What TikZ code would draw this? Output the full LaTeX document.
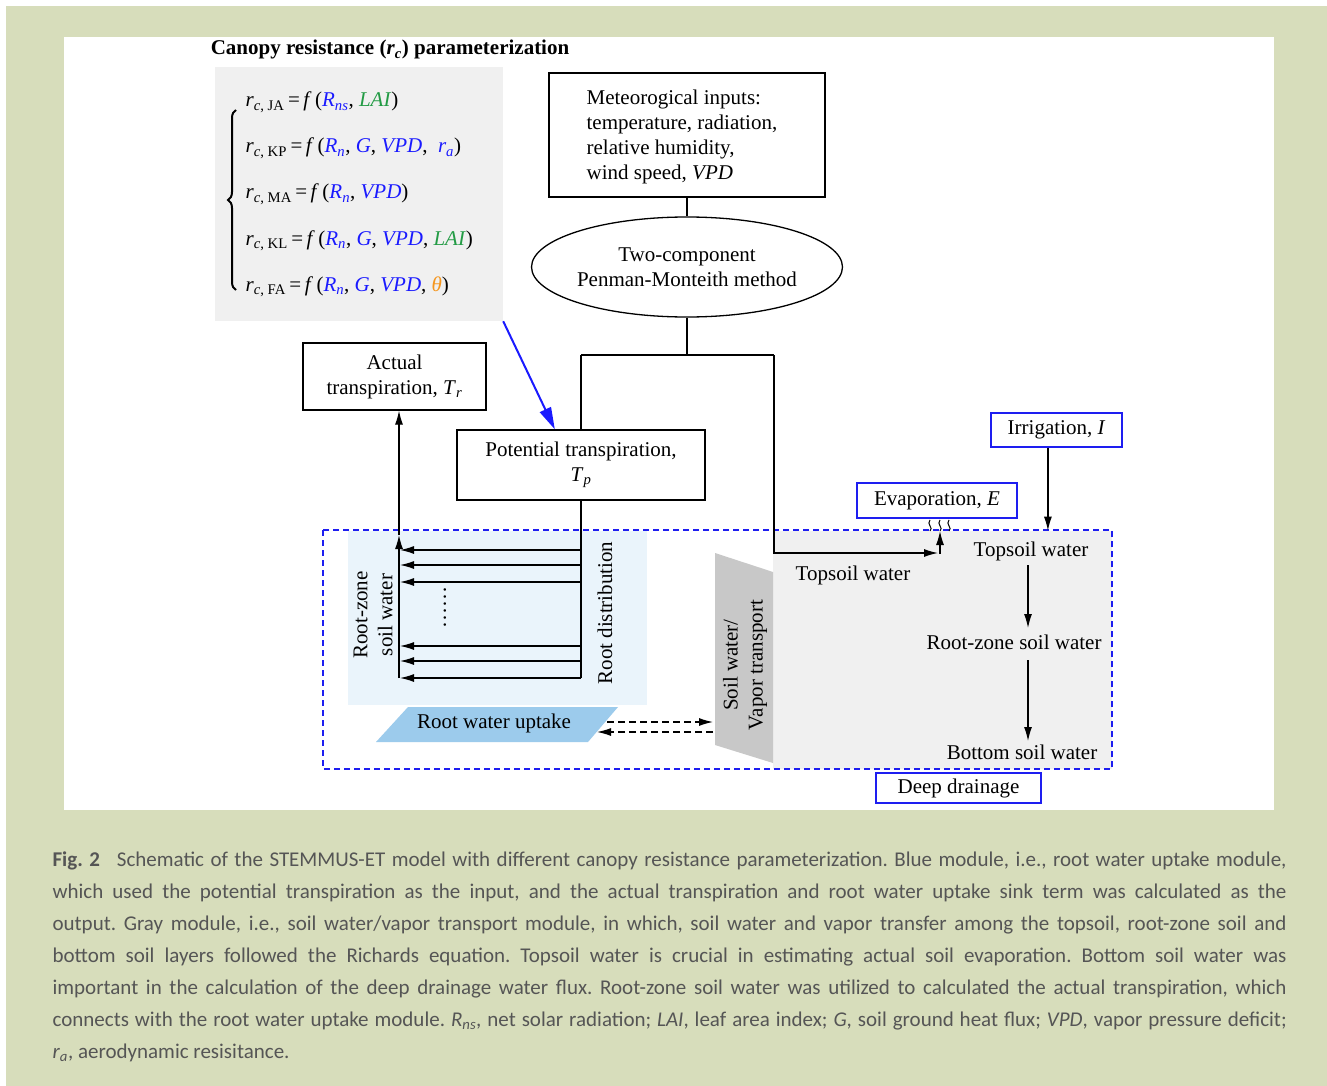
\documentclass[tikz,border=0pt]{standalone}
\usepackage{fontspec}
\setmainfont{Liberation Serif}
\newfontfamily\capfont{Carlito}
\usetikzlibrary{arrows.meta,shapes.geometric,decorations.pathreplacing,calc}
\definecolor{bgreen}{HTML}{D7DDBB}
\definecolor{eqgray}{HTML}{F0F0F0}
\definecolor{lblue}{HTML}{EAF4FB}
\definecolor{sblue}{HTML}{9CCBEC}
\definecolor{tgray}{HTML}{C8C8C8}
\definecolor{lgray}{HTML}{F0F0F0}
\definecolor{bblue}{HTML}{1E1EF0}
\definecolor{eqblue}{HTML}{1A1AFF}
\definecolor{eqgreen}{HTML}{239B45}
\definecolor{eqorange}{HTML}{F5961E}
\definecolor{captext}{HTML}{555555}
\newcommand{\fs}{\fontsize{21}{25}\selectfont}
\newcommand{\rcsub}[1]{\textit{r}\textsubscript{\textit{c}, #1}}
\newcommand{\bl}[1]{\textcolor{eqblue}{#1}}
\begin{document}
\begin{tikzpicture}[x=1pt,y=-1pt,font=\fs,line width=1.2pt,
  box/.style={draw,line width=1.3pt,inner sep=0pt,align=center},
  bbox/.style={draw=bblue,line width=1.3pt,inner sep=0pt,align=center},
  arr/.style={-{Latex[length=14pt,width=8pt]}},
  darr/.style={-{Latex[length=14pt,width=8pt]},dash pattern=on 7pt off 4pt},
  eqn/.style={anchor=base west,inner sep=0pt}]
\useasboundingbox (0,0) rectangle (1327,1086);
\fill[white] (0,0) rectangle (1327,1086);
\fill[bgreen] (6,6) rectangle (1327,1086);
\fill[white] (64,37) rectangle (1274,810);

% title and equations
\node[anchor=base,inner sep=0pt,font=\fs\bfseries] (title) at (390,55) {Canopy resistance (\textit{r}\textsubscript{\textit{c}}) parameterization};
\node[fill=eqgray,minimum width=288pt,minimum height=254pt,inner sep=0pt,anchor=north west] (eqbox) at (214,66) {};
\draw[decorate,decoration={brace,amplitude=8pt},line width=2pt] (236,290) -- (236,110);
\node[eqn] (e1) at (245,107) {\rcsub{JA}\,=\,\textit{f}\,(\bl{\textit{R}\textsubscript{\textit{ns}}}, \textcolor{eqgreen}{\textit{LAI}})};
\node[eqn] (e2) at (245,153) {\rcsub{KP}\,=\,\textit{f}\,(\bl{\textit{R}\textsubscript{\textit{n}}}, \bl{\textit{G}}, \bl{\textit{VPD}}, \ \bl{\textit{r}\textsubscript{\textit{a}}})};
\node[eqn] (e3) at (245,199) {\rcsub{MA}\,=\,\textit{f}\,(\bl{\textit{R}\textsubscript{\textit{n}}}, \bl{\textit{VPD}})};
\node[eqn] (e4) at (245,245) {\rcsub{KL}\,=\,\textit{f}\,(\bl{\textit{R}\textsubscript{\textit{n}}}, \bl{\textit{G}}, \bl{\textit{VPD}}, \textcolor{eqgreen}{\textit{LAI}})};
\node[eqn] (e5) at (245,291) {\rcsub{FA}\,=\,\textit{f}\,(\bl{\textit{R}\textsubscript{\textit{n}}}, \bl{\textit{G}}, \bl{\textit{VPD}}, \textcolor{eqorange}{\textit{θ}})};

% regions
\fill[lblue] (348,531) rectangle (647,705);
\fill[lgray] (773,531) rectangle (1112,769);
\fill[tgray] (715,553) -- (773,572) -- (773,763) -- (715,745) -- cycle;
\fill[sblue] (408,707) -- (618,707) -- (588,742) -- (376,742) -- cycle;
\draw[bblue,line width=1.3pt,dash pattern=on 6pt off 4pt] (323,530) rectangle (1112,769);

% top nodes
\node[box,minimum width=276pt,minimum height=124pt] (met) at (687,135) {};
\node[inner sep=0pt,align=left,anchor=west] (mettext) at (586,137) {Meteorogical inputs:\\temperature, radiation,\\relative humidity,\\wind speed, \textit{VPD}};
\node[box,ellipse,minimum width=310pt,minimum height=100pt] (pm) at (687,267) {Two-component\\Penman-Monteith method};
\node[box,minimum width=248pt,minimum height=70pt] (pot) at (581,465) {Potential transpiration,\\\textit{T}\textsubscript{\textit{p}}};
\node[box,minimum width=183pt,minimum height=67pt] (act) at (394.5,376.5) {Actual\\transpiration, \textit{T}\textsubscript{\textit{r}}};
\node[bbox,minimum width=131pt,minimum height=34pt] (irr) at (1056.5,430) {Irrigation, \textit{I}};
\node[bbox,minimum width=160pt,minimum height=35pt] (evap) at (937,500.5) {Evaporation, \textit{E}};
\node[bbox,minimum width=165pt,minimum height=30pt] (deep) at (958.5,788) {Deep drainage};

% labels inside modules
\node[rotate=90,align=center,inner sep=0pt] (rzs) at (373,615) {Root-zone\\soil water};
\node[rotate=90,inner sep=0pt] (rdist) at (605,613) {Root distribution};
\node[rotate=90,inner sep=0pt] (dots) at (445,607) {……};
\node[inner sep=0pt] (ruw) at (494,723) {Root water uptake};
\node[rotate=90,align=center,inner sep=0pt] (swv) at (745,665) {Soil water/\\Vapor transport};
\node[inner sep=0pt] (ts1) at (853,575) {Topsoil water};
\node[inner sep=0pt] (ts2) at (1031,551) {Topsoil water};
\node[inner sep=0pt] (rz2) at (1014,642) {Root-zone soil water};
\node[inner sep=0pt] (bs) at (1022,752) {Bottom soil water};

% connectors
\coordinate (jl) at (581,355);
\coordinate (jr) at (774,355);
\draw (met.south) -- (pm.north);
\draw (pm.south) -- (pm.south |- jl);
\draw (jl) -- (jr);
\draw (jl) -- (pot.north);
\draw[arr] (jr) |- (938,553);
\draw[arr] (940,554) -- (940,531);
\foreach \xx in {930,940,949}
  \draw[line width=1pt] (\xx,531) .. controls (\xx+4,528) and (\xx-4,524) .. (\xx,520);
\draw[arr] ($(irr.south west)!0.435!(irr.south east)$) -- ++(0,83);
\draw[arr] (ts2.south -| 1028,0) ++(0,4) -- (1028,628);
\draw[arr] (1028,660) -- (1028,741);

\draw[eqblue,line width=2pt,-{Triangle[length=22pt,width=12pt]}] (eqbox.south east) -- ($(pot.north west)!0.395!(pot.north east)$);

\coordinate (rzb) at (399,678);
\coordinate (rzt) at (399,535);
\draw[arr] (rzb) -- (rzt);
\draw[arr] (rzt) -- (rzt |- act.south);
\draw (pot.south) -- (pot.south |- rzb);
\foreach \yy in {550,565,582,646,661,678}
  \draw[arr] (581,\yy) -- (400,\yy);

\draw[darr] (607,722) -- (713,722);
\draw[darr] (713,732) -- (597,732);

% caption
\node[anchor=north west,text width=1234pt,align=justify,inner sep=0pt,
  font=\capfont\fontsize{21}{32}\selectfont,text=captext] (cap) at (52,851)
{\frenchspacing\hyphenpenalty=10000\tolerance=9999
\textbf{Fig. 2}\hspace{0.8em}Schematic of the STEMMUS-ET model with different canopy resistance parameterization. Blue module, i.e., root water uptake module,\linebreak
which used the potential transpiration as the input, and the actual transpiration and root water uptake sink term was calculated as the\linebreak
output. Gray module, i.e., soil water/vapor transport module, in which, soil water and vapor transfer among the topsoil, root-zone soil and\linebreak
bottom soil layers followed the Richards equation. Topsoil water is crucial in estimating actual soil evaporation. Bottom soil water was\linebreak
important in the calculation of the deep drainage water flux. Root-zone soil water was utilized to calculated the actual transpiration, which\linebreak
connects with the root water uptake module. \textit{R}\textsubscript{\textit{ns}}, net solar radiation; \textit{LAI}, leaf area index; \textit{G}, soil ground heat flux; \textit{VPD}, vapor pressure deficit;\linebreak
\textit{r}\textsubscript{\textit{a}}, aerodynamic resisitance.};
\end{tikzpicture}
\end{document}
